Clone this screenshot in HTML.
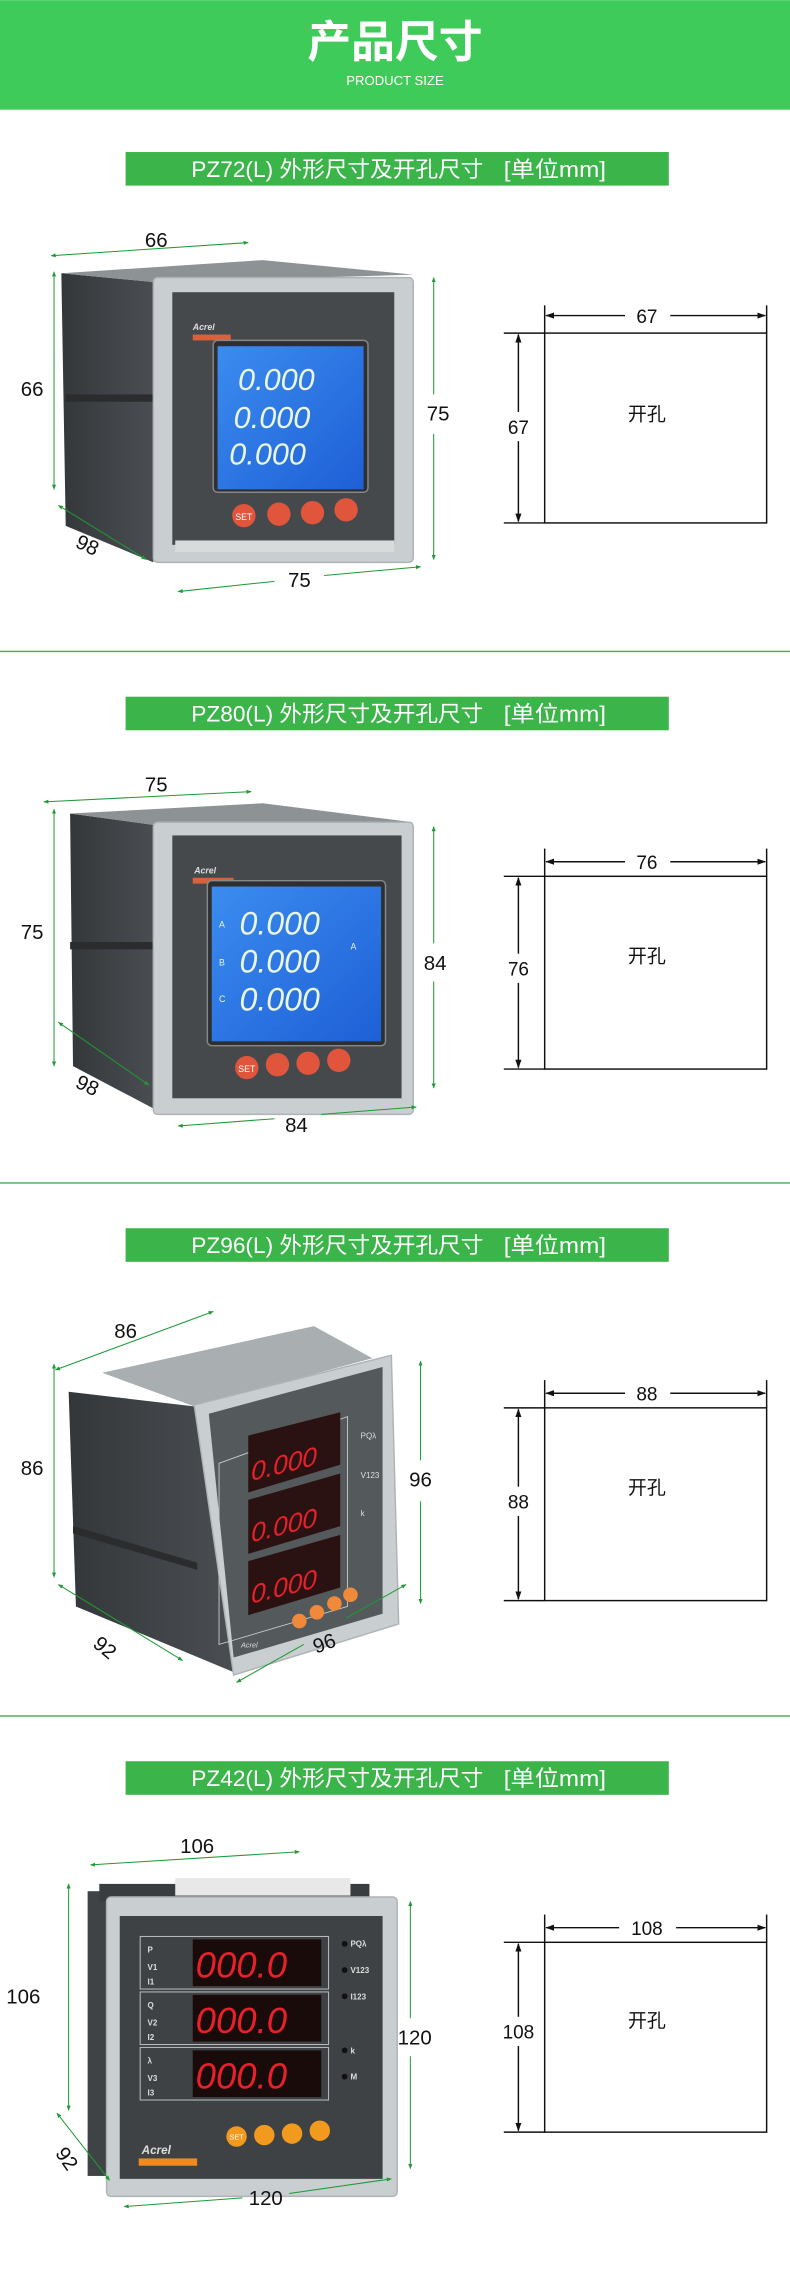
<!DOCTYPE html>
<html><head><meta charset="utf-8"><style>
html,body{margin:0;padding:0;background:#fff}
svg{display:block}
text{font-family:"Liberation Sans","Noto Sans CJK SC",sans-serif}
</style></head><body>
<svg width="790" height="2290" viewBox="0 0 541 1568" xmlns="http://www.w3.org/2000/svg">
<defs>
<marker id="ga" viewBox="0 0 10 10" refX="9" refY="5" markerWidth="5" markerHeight="5" orient="auto-start-reverse"><path d="M0,1L10,5L0,9z" fill="#1f9a35"/></marker>
<marker id="ka" viewBox="0 0 10 10" refX="9" refY="5" markerWidth="6" markerHeight="6" orient="auto-start-reverse"><path d="M0,1.5L10,5L0,8.5z" fill="#111"/></marker>
<linearGradient id="lcd" x1="0" y1="0" x2="1" y2="1"><stop offset="0" stop-color="#3b8cf0"/><stop offset="1" stop-color="#1e5fd6"/></linearGradient>
<linearGradient id="body" x1="0" y1="0" x2="1" y2="0"><stop offset="0" stop-color="#34373a"/><stop offset="1" stop-color="#4a4e52"/></linearGradient>
</defs>

<!-- header -->
<rect x="0" y="0" width="541" height="75" fill="#3ecb5a"/>
<text x="270.5" y="39" font-size="30" font-weight="bold" fill="#fff" text-anchor="middle">产品尺寸</text>
<text x="270.5" y="58" font-size="9" fill="#fff" text-anchor="middle">PRODUCT SIZE</text>

<!-- dividers -->
<rect x="0" y="445.5" width="541" height="1" fill="#4cb05a"/>
<rect x="0" y="809.5" width="541" height="1" fill="#4cb05a"/>
<rect x="0" y="1174.5" width="541" height="1" fill="#4cb05a"/>

<!-- bands -->
<g font-size="15" fill="#fff">
<rect x="86" y="104" width="372" height="23" fill="#3bb54a"/>
<text x="131" y="121" textLength="200" lengthAdjust="spacingAndGlyphs">PZ72(L) 外形尺寸及开孔尺寸</text>
<text x="345" y="121" textLength="70" lengthAdjust="spacingAndGlyphs">[单位mm]</text>
<rect x="86" y="477" width="372" height="23" fill="#3bb54a"/>
<text x="131" y="494" textLength="200" lengthAdjust="spacingAndGlyphs">PZ80(L) 外形尺寸及开孔尺寸</text>
<text x="345" y="494" textLength="70" lengthAdjust="spacingAndGlyphs">[单位mm]</text>
<rect x="86" y="841" width="372" height="23" fill="#3bb54a"/>
<text x="131" y="858" textLength="200" lengthAdjust="spacingAndGlyphs">PZ96(L) 外形尺寸及开孔尺寸</text>
<text x="345" y="858" textLength="70" lengthAdjust="spacingAndGlyphs">[单位mm]</text>
<rect x="86" y="1206" width="372" height="23" fill="#3bb54a"/>
<text x="131" y="1223" textLength="200" lengthAdjust="spacingAndGlyphs">PZ42(L) 外形尺寸及开孔尺寸</text>
<text x="345" y="1223" textLength="70" lengthAdjust="spacingAndGlyphs">[单位mm]</text>
</g>

<!-- cutout boxes -->
<g stroke="#111" stroke-width="1" fill="none">
  <rect x="373" y="228" width="152" height="130"/>
  <line x1="345" y1="228" x2="373" y2="228"/><line x1="345" y1="358" x2="373" y2="358"/>
  <line x1="373" y1="209" x2="373" y2="228"/><line x1="525" y1="209" x2="525" y2="228"/>
  <line x1="374" y1="216" x2="428" y2="216" marker-start="url(#ka)"/><line x1="459" y1="216" x2="524" y2="216" marker-end="url(#ka)"/>
  <line x1="355" y1="229" x2="355" y2="282" marker-start="url(#ka)"/><line x1="355" y1="302" x2="355" y2="357" marker-end="url(#ka)"/>

 <rect x="373" y="600" width="152" height="132"/>
 <line x1="345" y1="600" x2="373" y2="600"/><line x1="345" y1="732" x2="373" y2="732"/>
 <line x1="373" y1="581" x2="373" y2="600"/><line x1="525" y1="581" x2="525" y2="600"/>
 <line x1="374" y1="590" x2="428" y2="590" marker-start="url(#ka)"/><line x1="459" y1="590" x2="524" y2="590" marker-end="url(#ka)"/>
 <line x1="355" y1="601" x2="355" y2="653" marker-start="url(#ka)"/><line x1="355" y1="673" x2="355" y2="731" marker-end="url(#ka)"/>

 <rect x="373" y="964" width="152" height="132"/>
 <line x1="345" y1="964" x2="373" y2="964"/><line x1="345" y1="1096" x2="373" y2="1096"/>
 <line x1="373" y1="945" x2="373" y2="964"/><line x1="525" y1="945" x2="525" y2="964"/>
 <line x1="374" y1="954" x2="428" y2="954" marker-start="url(#ka)"/><line x1="459" y1="954" x2="524" y2="954" marker-end="url(#ka)"/>
 <line x1="355" y1="965" x2="355" y2="1018" marker-start="url(#ka)"/><line x1="355" y1="1038" x2="355" y2="1095" marker-end="url(#ka)"/>

 <rect x="373" y="1330" width="152" height="130"/>
 <line x1="345" y1="1330" x2="373" y2="1330"/><line x1="345" y1="1460" x2="373" y2="1460"/>
 <line x1="373" y1="1311" x2="373" y2="1330"/><line x1="525" y1="1311" x2="525" y2="1330"/>
 <line x1="374" y1="1320" x2="424" y2="1320" marker-start="url(#ka)"/><line x1="463" y1="1320" x2="524" y2="1320" marker-end="url(#ka)"/>
 <line x1="355" y1="1331" x2="355" y2="1381" marker-start="url(#ka)"/><line x1="355" y1="1401" x2="355" y2="1459" marker-end="url(#ka)"/>
</g>
<g font-size="13" fill="#111" text-anchor="middle">
<text x="443" y="221">67</text><text x="355" y="297">67</text><text x="443" y="288">开孔</text>
<text x="443" y="595">76</text><text x="355" y="668">76</text><text x="443" y="659">开孔</text>
<text x="443" y="959">88</text><text x="355" y="1033">88</text><text x="443" y="1023">开孔</text>
<text x="443" y="1325">108</text><text x="355" y="1396">108</text><text x="443" y="1388">开孔</text>
</g>

<!-- Device 1 PZ72 -->
<g>
 <polygon points="42,187 105,193 105,385 45,360" fill="url(#body)"/>
 <rect x="45" y="270" width="60" height="5" fill="#2a2c2e"/>
 <polygon points="42,187 180,178 283,188 105,193" fill="#8d9294"/>
 <rect x="105" y="190" width="178" height="195" rx="3" fill="#c9ced0" stroke="#aeb4b6"/>
 <rect x="118" y="200" width="152" height="173" fill="#45494c"/>
 <rect x="120" y="370" width="150" height="8" fill="#d7dbdc"/>
 <text x="132" y="226" font-size="6" fill="#ddd" font-style="italic" font-weight="bold">Acrel</text>
 <rect x="132" y="229" width="26" height="4" fill="#d9623b"/>
 <rect x="146" y="233" width="106" height="104" rx="3" fill="#2d2f31" stroke="#888"/>
 <rect x="149" y="237" width="100" height="98" fill="url(#lcd)"/>
 <g font-size="21" fill="#e9f6d8" font-style="italic" font-family="Liberation Mono">
  <text x="163" y="267">0.000</text><text x="160" y="293">0.000</text><text x="157" y="318">0.000</text>
 </g>
 <circle cx="167" cy="353" r="8" fill="#e0553c"/><text x="167" y="356" font-size="6" fill="#fff" text-anchor="middle">SET</text>
 <circle cx="191" cy="352" r="8" fill="#e0553c"/><circle cx="214" cy="351" r="8" fill="#e0553c"/><circle cx="237" cy="349" r="8" fill="#e0553c"/>
</g>
<!-- Device 2 PZ80 -->
<g>
 <polygon points="48,557 107,565 107,760 50,730" fill="url(#body)"/>
 <rect x="48" y="645" width="60" height="5" fill="#2a2c2e"/>
 <polygon points="48,557 180,550 283,563 107,565" fill="#8d9294"/>
 <rect x="105" y="563" width="178" height="200" rx="3" fill="#c9ced0" stroke="#aeb4b6"/>
 <rect x="118" y="572" width="157" height="180" fill="#45494c"/>
 <text x="133" y="598" font-size="6" fill="#ddd" font-style="italic" font-weight="bold">Acrel</text>
 <rect x="132" y="601" width="28" height="4" fill="#d9623b"/>
 <rect x="142" y="603" width="122" height="113" rx="3" fill="#2d2f31" stroke="#888"/>
 <rect x="145" y="607" width="116" height="106" fill="url(#lcd)"/>
 <g font-size="22" fill="#e9f6d8" font-style="italic" font-family="Liberation Mono">
  <text x="164" y="640">0.000</text><text x="164" y="666">0.000</text><text x="164" y="692">0.000</text>
 </g>
 <g font-size="6" fill="#e9f6d8"><text x="150" y="635">A</text><text x="150" y="661">B</text><text x="150" y="686">C</text><text x="240" y="650">A</text></g>
 <circle cx="169" cy="731" r="8" fill="#e0553c"/><text x="169" y="734" font-size="6" fill="#fff" text-anchor="middle">SET</text>
 <circle cx="190" cy="729" r="8" fill="#e0553c"/><circle cx="211" cy="728" r="8" fill="#e0553c"/><circle cx="232" cy="726" r="8" fill="#e0553c"/>
</g>
<!-- Device 3 PZ96 -->
<g>
 <polygon points="47,953 133,963 160,1145 52,1100" fill="url(#body)"/>
 <polygon points="50,1045 135,1070 135,1075 50,1050" fill="#2a2c2e"/>
 <polygon points="70,940 215,908 255,930 133,963" fill="#a9aeb0"/>
 <polygon points="133,962 268,928 273,1112 160,1147" fill="#c9ced0" stroke="#aeb4b6"/>
 <polygon points="143,968 262,936 262,1105 160,1135" fill="#54595c"/>
 <polygon points="150,1002 238,970 238,1100 150,1126" fill="none" stroke="#ccc" stroke-width="0.6"/>
 <polygon points="170,983 233,967 233,1003 170,1022" fill="#2b1212"/>
 <polygon points="170,1027 233,1009 233,1045 170,1064" fill="#2b1212"/>
 <polygon points="170,1069 233,1051 233,1087 170,1106" fill="#2b1212"/>
 <g font-size="18" fill="#e8202a" font-family="Liberation Mono" font-style="italic">
  <text x="172" y="1010" transform="skewY(-14) translate(0,47)">0.000</text>
  <text x="172" y="1052" transform="skewY(-14) translate(0,47)">0.000</text>
  <text x="172" y="1094" transform="skewY(-14) translate(0,47)">0.000</text>
 </g>
 <g font-size="5.5" fill="#ddd"><text x="247" y="985">PQλ</text><text x="247" y="1012">V123</text><text x="247" y="1038">k</text></g>
 <circle cx="205" cy="1110" r="5" fill="#f08a3a"/><circle cx="217" cy="1104" r="5" fill="#f08a3a"/><circle cx="229" cy="1098" r="5" fill="#f08a3a"/><circle cx="240" cy="1092" r="5" fill="#f08a3a"/>
 <text x="165" y="1128" font-size="5" fill="#ddd" font-style="italic">Acrel</text>
</g>
<!-- Device 4 PZ42 -->
<g>
 <rect x="60" y="1295" width="20" height="195" fill="#3f4346"/>
 <rect x="68" y="1290" width="185" height="12" fill="#3a3d40"/>
 <rect x="120" y="1286" width="120" height="12" fill="#e8e8e8"/>
 <rect x="73" y="1299" width="199" height="205" rx="3" fill="#c9ced0" stroke="#aeb4b6"/>
 <rect x="82" y="1312" width="180" height="180" fill="#3e4245"/>
 <g fill="none" stroke="#bbb" stroke-width="0.7">
  <rect x="96" y="1326" width="129" height="36"/><rect x="96" y="1364" width="129" height="36"/><rect x="96" y="1402" width="129" height="36"/>
 </g>
 <rect x="132" y="1328" width="88" height="32" fill="#1a0b0b"/><rect x="132" y="1366" width="88" height="32" fill="#1a0b0b"/><rect x="132" y="1404" width="88" height="32" fill="#1a0b0b"/>
 <g font-size="25" fill="#e8202a" font-family="Liberation Mono" font-style="italic">
  <text x="134" y="1354">000.0</text><text x="134" y="1392">000.0</text><text x="134" y="1430">000.0</text>
 </g>
 <g font-size="5.5" fill="#ddd" font-weight="bold"><text x="101" y="1337">P</text><text x="101" y="1349">V1</text><text x="101" y="1359">I1</text>
 <text x="101" y="1375">Q</text><text x="101" y="1387">V2</text><text x="101" y="1397">I2</text>
 <text x="101" y="1413">λ</text><text x="101" y="1425">V3</text><text x="101" y="1435">I3</text>
 <text x="240" y="1333">PQλ</text><text x="240" y="1351">V123</text><text x="240" y="1369">I123</text><text x="240" y="1406">k</text><text x="240" y="1424">M</text></g>
 <g fill="#111"><circle cx="236" cy="1331" r="2"/><circle cx="236" cy="1349" r="2"/><circle cx="236" cy="1367" r="2"/><circle cx="236" cy="1404" r="2"/><circle cx="236" cy="1422" r="2"/></g>
 <circle cx="162" cy="1463" r="7" fill="#f29a1e"/><text x="162" y="1465" font-size="5" fill="#fff" text-anchor="middle">SET</text>
 <circle cx="181" cy="1462" r="7" fill="#f29a1e"/><circle cx="200" cy="1461" r="7" fill="#f29a1e"/><circle cx="219" cy="1459" r="7" fill="#f29a1e"/>
 <text x="97" y="1475" font-size="8" fill="#ddd" font-style="italic" font-weight="bold">Acrel</text>
 <rect x="95" y="1478" width="40" height="5" fill="#f08a1e"/>
</g>

<!-- green dimension lines -->
<g stroke="#1f9a35" stroke-width="0.7" fill="none">
 <line x1="35" y1="175" x2="170" y2="166" marker-start="url(#ga)" marker-end="url(#ga)"/>
 <line x1="37" y1="186" x2="37" y2="335" marker-start="url(#ga)" marker-end="url(#ga)"/>
 <line x1="297" y1="190" x2="297" y2="270" marker-start="url(#ga)"/><line x1="297" y1="297" x2="297" y2="383" marker-end="url(#ga)"/>
 <line x1="122" y1="405" x2="188" y2="398" marker-start="url(#ga)"/><line x1="222" y1="394" x2="288" y2="388" marker-end="url(#ga)"/>
 <line x1="40" y1="346" x2="100" y2="383" marker-start="url(#ga)" marker-end="url(#ga)"/>

 <line x1="30" y1="549" x2="172" y2="542" marker-start="url(#ga)" marker-end="url(#ga)"/>
 <line x1="37" y1="554" x2="37" y2="730" marker-start="url(#ga)" marker-end="url(#ga)"/>
 <line x1="297" y1="566" x2="297" y2="646" marker-start="url(#ga)"/><line x1="297" y1="672" x2="297" y2="745" marker-end="url(#ga)"/>
 <line x1="122" y1="771" x2="188" y2="766" marker-start="url(#ga)"/><line x1="220" y1="763" x2="285" y2="758" marker-end="url(#ga)"/>
 <line x1="40" y1="700" x2="102" y2="743" marker-start="url(#ga)" marker-end="url(#ga)"/>

 <line x1="38" y1="938" x2="146" y2="898" marker-start="url(#ga)" marker-end="url(#ga)"/>
 <line x1="37" y1="934" x2="37" y2="1080" marker-start="url(#ga)" marker-end="url(#ga)"/>
 <line x1="288" y1="932" x2="288" y2="1000" marker-start="url(#ga)"/><line x1="288" y1="1028" x2="288" y2="1098" marker-end="url(#ga)"/>
 <line x1="162" y1="1152" x2="208" y2="1126" marker-start="url(#ga)"/><line x1="237" y1="1108" x2="278" y2="1085" marker-end="url(#ga)"/>
 <line x1="40" y1="1085" x2="125" y2="1137" marker-start="url(#ga)" marker-end="url(#ga)"/>

 <line x1="62" y1="1277" x2="205" y2="1268" marker-start="url(#ga)" marker-end="url(#ga)"/>
 <line x1="47" y1="1290" x2="47" y2="1445" marker-start="url(#ga)" marker-end="url(#ga)"/>
 <line x1="281" y1="1302" x2="281" y2="1382" marker-start="url(#ga)"/><line x1="281" y1="1408" x2="281" y2="1485" marker-end="url(#ga)"/>
 <line x1="85" y1="1511" x2="166" y2="1505" marker-start="url(#ga)"/><line x1="198" y1="1502" x2="268" y2="1492" marker-end="url(#ga)"/>
 <line x1="39" y1="1447" x2="75" y2="1493" marker-start="url(#ga)" marker-end="url(#ga)"/>
</g>
<g font-size="14" fill="#111" text-anchor="middle">
 <text x="107" y="169">66</text><text x="22" y="271">66</text><text x="300" y="288">75</text><text x="205" y="402">75</text>
 <text x="60" y="378" transform="rotate(25 60 373)">98</text>
 <text x="107" y="542">75</text><text x="22" y="643">75</text><text x="298" y="664">84</text><text x="203" y="775">84</text>
 <text x="60" y="748" transform="rotate(25 60 743)">98</text>
 <text x="86" y="916">86</text><text x="22" y="1010">86</text><text x="288" y="1018">96</text><text x="222" y="1130" transform="rotate(-20 222 1125)">96</text>
 <text x="72" y="1133" transform="rotate(40 72 1128)">92</text>
 <text x="135" y="1269">106</text><text x="16" y="1372">106</text><text x="284" y="1400">120</text><text x="182" y="1510">120</text>
 <text x="46" y="1483" transform="rotate(55 46 1478)">92</text>
</g>
</svg>
</body></html>
